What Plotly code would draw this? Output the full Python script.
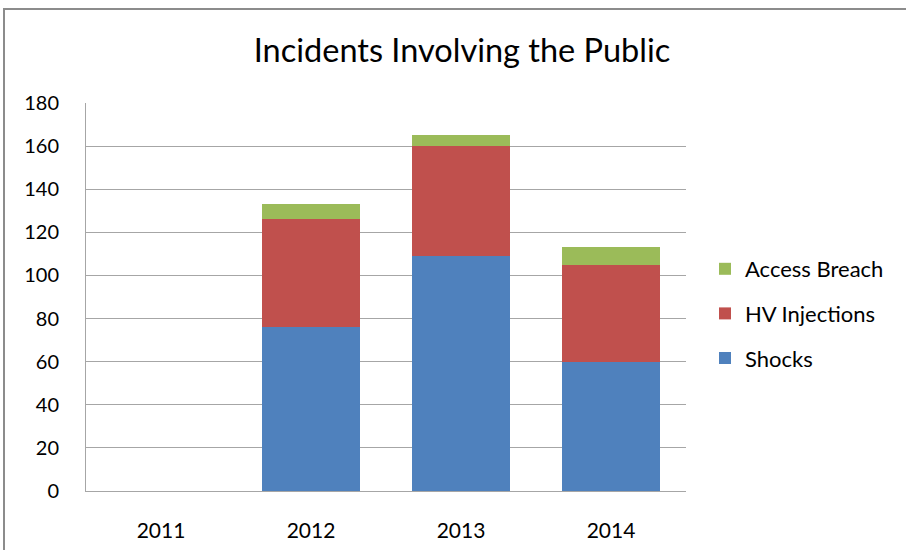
import plotly.graph_objects as go

years = ["2011", "2012", "2013", "2014"]
shocks = [0, 76, 109, 60]
hv_injections = [0, 50, 51, 45]
access_breach = [0, 7, 5, 8]

y_ticks = [0, 20, 40, 60, 80, 100, 120, 140, 160, 180]

font_family = "Lato, 'Open Sans', sans-serif"

fig = go.Figure()
fig.add_trace(go.Bar(x=years, y=shocks, name="Shocks",
                     marker=dict(color="#4F81BD", line=dict(width=0)),
                     legendgroup="a", legendrank=3))
fig.add_trace(go.Bar(x=years, y=hv_injections, name="HV Injections",
                     marker=dict(color="#C0504D", line=dict(width=0)),
                     legendgroup="b", legendrank=2))
fig.add_trace(go.Bar(x=years, y=access_breach, name="Access Breach",
                     marker=dict(color="#9BBB59", line=dict(width=0)),
                     legendgroup="c", legendrank=1))

L, R, T, B = 86, 220, 103, 59
W, H = 906, 550
pw, ph = W - L - R, H - T - B

def px_x(p):
    return (p - L) / pw

def px_y(p):
    return (H - B - p) / ph

fig.update_layout(
    width=W, height=H,
    margin=dict(l=L, r=R, t=T, b=B, autoexpand=False),
    paper_bgcolor="white", plot_bgcolor="white",
    barmode="stack", bargap=0.35,
    font=dict(family=font_family, size=20, color="#000000"),
    title=dict(text="Incidents Involving the Public", x=462 / W, xref="container",
               xanchor="center", y=1 - 51 / H, yref="container", yanchor="middle",
               font=dict(size=32.5, family=font_family, color="#000000")),
    legend=dict(traceorder="grouped", x=px_x(705), xanchor="left",
                y=px_y(248), yanchor="top", tracegroupgap=13,
                font=dict(size=22, family=font_family), itemwidth=30,
                bgcolor="rgba(0,0,0,0)"),
    xaxis=dict(showgrid=False, showline=True, linecolor="#A6A6A6", linewidth=1,
               ticks="", ticklabelstandoff=21, tickfont=dict(size=21),
               automargin=False),
    yaxis=dict(range=[0, 180], tickvals=y_ticks, showgrid=True,
               gridcolor="#A6A6A6", gridwidth=1, showline=True,
               linecolor="#A6A6A6", linewidth=1, ticks="", zeroline=False,
               ticklabelstandoff=22, tickfont=dict(size=20), automargin=False),
    shapes=[dict(type="rect", xref="paper", yref="paper",
                 x0=px_x(4), x1=px_x(912), y0=px_y(556), y1=px_y(9),
                 line=dict(color="#8C8C8C", width=2), fillcolor="rgba(0,0,0,0)",
                 layer="below")],
)

fig.write_html("out.html")
